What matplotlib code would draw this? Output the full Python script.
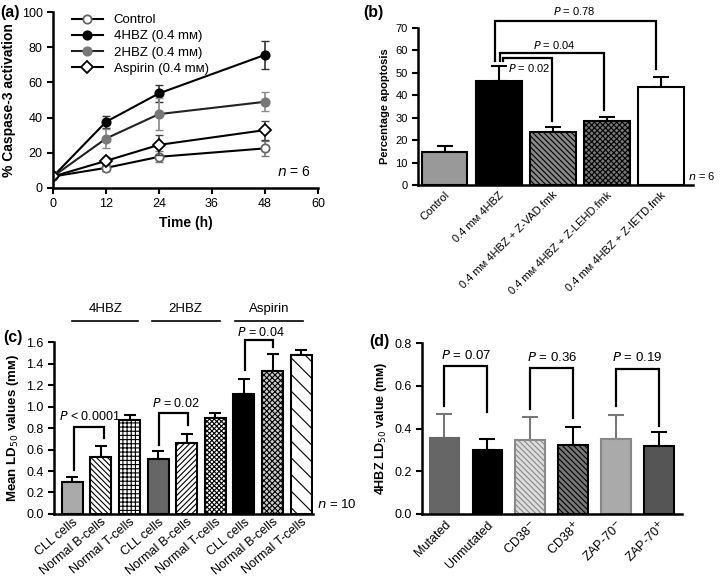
import matplotlib
matplotlib.use("Agg")
import matplotlib.pyplot as plt

plt.rcParams['font.family'] = ['Liberation Sans', 'DejaVu Sans']
plt.rcParams['hatch.linewidth'] = 0.8

# (a) caspase-3 activation over time
times = [0, 12, 24, 48]
ctrl = [6.5, 11.4, 17.7, 22.5]
ctrl_err = [1.0, 1.5, 3.1, 4.3]
hbz4 = [6.5, 37.6, 53.8, 75.7]
hbz4_err = [1.0, 3.4, 5.0, 8.0]
hbz2 = [6.5, 28.1, 42.0, 49.0]
hbz2_err = [1.0, 5.4, 9.0, 5.3]
aspirin = [6.5, 15.4, 24.5, 32.9]
aspirin_err = [1.0, 2.0, 5.6, 5.4]

# (b) percentage apoptosis
b_labels = ['Control', '0.4 mᴍ 4HBZ', '0.4 mᴍ 4HBZ + Z-VAD.fmk',
            '0.4 mᴍ 4HBZ + Z-LEHD.fmk', '0.4 mᴍ 4HBZ + Z-IETD.fmk']
b_vals = [14.9, 46.3, 23.4, 28.7, 43.7]
b_err = [2.7, 6.7, 2.4, 1.4, 4.3]

# (c) mean LD50 values
c_labels = ['CLL cells', 'Normal B-cells', 'Normal T-cells'] * 3
c_groups = ['4HBZ', '2HBZ', 'Aspirin']
c_vals = [0.297, 0.528, 0.874, 0.513, 0.664, 0.890, 1.115, 1.331, 1.476]
c_err = [0.043, 0.108, 0.050, 0.077, 0.077, 0.052, 0.145, 0.159, 0.053]

# (d) 4HBZ LD50 by prognostic marker
d_labels = ['Mutated', 'Unmutated', 'CD38$^{-}$', 'CD38$^{+}$',
            'ZAP-70$^{-}$', 'ZAP-70$^{+}$']
d_vals = [0.355, 0.300, 0.347, 0.323, 0.350, 0.316]
d_err = [0.112, 0.052, 0.109, 0.086, 0.114, 0.067]


def style_axes(ax, size=9):
    for s in ['top', 'right']:
        ax.spines[s].set_visible(False)
    for s in ['left', 'bottom']:
        ax.spines[s].set_linewidth(1.8)
    ax.tick_params(width=1.5, length=4, labelsize=size)


def bracket(ax, x1, x2, y, y1, y2, lw=1.6):
    ax.plot([x1, x1, x2, x2], [y1, y, y, y2], color='black', lw=lw,
            clip_on=False, solid_joinstyle='miter')


fig = plt.figure(figsize=(7.2, 5.8), dpi=100)

# ---------- (a)
ax = fig.add_axes([0.0736, 0.676, 0.368, 0.303])
series = [
    (ctrl, ctrl_err, 'Control', 'o', 'white', '#666666', '#777777', 'black'),
    (hbz4, hbz4_err, '4HBZ (0.4 mᴍ)', 'o', 'black', 'black', '#333333', 'black'),
    (hbz2, hbz2_err, '2HBZ (0.4 mᴍ)', 'o', '#777777', '#777777', '#888888', '#222222'),
    (aspirin, aspirin_err, 'Aspirin (0.4 mᴍ)', 'D', 'white', 'black', '#444444', 'black'),
]
for vals, errs, lab, mk, mfc, mec, ecol, lcol in series:
    ax.errorbar(times, vals, yerr=errs, fmt='none', ecolor=ecol, capsize=3,
                elinewidth=1.2)
    ax.plot(times, vals, color=lcol, marker=mk, mfc=mfc, mec=mec, ms=6,
            mew=1.3, lw=1.5, label=lab)
ax.set_xlim(0, 60)
ax.set_ylim(0, 100)
ax.set_xticks([0, 12, 24, 36, 48, 60])
ax.set_yticks([0, 20, 40, 60, 80, 100])
ax.set_xlabel('Time (h)', fontsize=10, fontweight='bold')
ax.set_ylabel('% Caspase-3 activation', fontsize=10, fontweight='bold')
style_axes(ax)
ax.legend(loc='upper left', frameon=False, fontsize=9.5,
          handlelength=2.4, borderaxespad=0.0, labelspacing=0.3,
          bbox_to_anchor=(0.05, 1.02))
ax.text(54.5, 9, '$n$ = 6', fontsize=10, ha='center', va='center')
fig.text(0.0, 0.978, '(a)', fontsize=11.5, fontweight='bold', va='center')

# ---------- (b)
ax = fig.add_axes([0.5806, 0.681, 0.382, 0.271])
xb = list(range(len(b_vals)))
b_face = ['#999999', 'black', '#888888', '#777777', 'white']
b_hatch = [None, None, '\\\\\\\\\\\\', 'xxxxxx', None]
for i in xb:
    ax.bar(xb[i], b_vals[i], width=0.85, color=b_face[i], edgecolor='black',
           linewidth=1.5, hatch=b_hatch[i], zorder=2)
ax.errorbar(xb, b_vals, yerr=[[0] * 5, b_err], fmt='none', ecolor='black',
            capsize=6, elinewidth=1.5, capthick=1.5, zorder=1)
ax.set_xlim(-0.49, 4.6)
ax.set_ylim(0, 70)
ax.set_yticks(range(0, 71, 10))
ax.set_xticks(xb)
ax.set_xticklabels(b_labels, rotation=45, ha='right', rotation_mode='anchor',
                   fontsize=7)
ax.set_ylabel('Percentage apoptosis', fontsize=8, fontweight='bold')
style_axes(ax, 8)
ax.tick_params(axis='x', length=0)
bracket(ax, 0.93, 3.91, 73.1, 55.2, 51.5)
bracket(ax, 1.02, 2.96, 58.7, 55.2, 33.6)
bracket(ax, 1.09, 1.99, 56.7, 55.2, 28.4)
ax.text(2.41, 77.6, '$P$ = 0.78', fontsize=8, ha='center', va='center')
ax.text(2.04, 62.2, '$P$ = 0.04', fontsize=8, ha='center', va='center')
ax.text(1.18, 52.0, '$P$ = 0.02', fontsize=8, ha='left', va='center')
ax.text(4.5, 4, '$n$ = 6', fontsize=8, ha='left', va='center', clip_on=False)
fig.text(0.504, 0.978, '(b)', fontsize=11.5, fontweight='bold', va='center')

# ---------- (c)
ax = fig.add_axes([0.075, 0.1138, 0.36, 0.2965])
xc = list(range(len(c_vals)))
c_face = ['#aaaaaa', 'white', 'white', '#666666', 'white', 'white',
          'black', '#cccccc', 'white']
c_hatch = [None, '\\\\\\\\\\\\', '++++', None, '//////', 'xxxxxxx',
           None, 'xxxxxx', '\\\\']
for i in xc:
    ax.bar(xc[i], c_vals[i], width=0.735, color=c_face[i], edgecolor='black',
           linewidth=1.5, hatch=c_hatch[i], zorder=2)
ax.errorbar(xc, c_vals, yerr=[[0] * 9, c_err], fmt='none', ecolor='black',
            capsize=4, elinewidth=1.5, capthick=1.5, zorder=1)
ax.set_xlim(-0.64, 8.42)
ax.set_ylim(0, 1.6)
ax.set_yticks([0, 0.2, 0.4, 0.6, 0.8, 1.0, 1.2, 1.4, 1.6])
ax.set_yticklabels(['0.0', '0.2', '0.4', '0.6', '0.8', '1.0', '1.2', '1.4',
                    '1.6'])
ax.set_xticks(xc)
ax.set_xticklabels(c_labels, rotation=40, ha='right', rotation_mode='anchor',
                   fontsize=6.8)
ax.set_ylabel('Mean LD$_{50}$ values (mᴍ)', fontsize=9.5, fontweight='bold')
style_axes(ax)
ax.tick_params(axis='x', length=0, pad=1.5)
bracket(ax, 0.05, 1.1, 0.812, 0.41, 0.704)
bracket(ax, 3.03, 4.03, 0.936, 0.642, 0.828)
bracket(ax, 6.03, 7.0, 1.615, 1.337, 1.553)
ax.text(0.6, 0.905, '$P$ < 0.0001', fontsize=9, ha='center', va='center')
ax.text(3.6, 1.03, '$P$ = 0.02', fontsize=9, ha='center', va='center')
ax.text(6.6, 1.69, '$P$ = 0.04', fontsize=9, ha='center', va='center')
for g, (x0, x1) in zip(c_groups, [(0.0, 2.3), (2.77, 5.16), (5.68, 8.07)]):
    ax.plot([x0, x1], [1.80, 1.80], color='black', lw=1.2, clip_on=False)
    ax.text((x0 + x1) / 2, 1.91, g, fontsize=9.5, ha='center', va='center')
ax.text(8.55, 0.09, '$n$ = 10', fontsize=9.5, ha='left', va='center')
fig.text(0.004, 0.418, '(c)', fontsize=11.5, fontweight='bold', va='center')

# ---------- (d)
ax = fig.add_axes([0.586, 0.1138, 0.361, 0.2948])
xd = list(range(len(d_vals)))
d_face = ['#666666', 'black', '#dddddd', '#777777', '#aaaaaa', '#555555']
d_edge = ['#666666', 'black', '#888888', 'black', '#888888', 'black']
d_hatch = [None, None, '\\\\\\\\\\\\', '\\\\\\\\\\\\', None, None]
d_ecol = ['#777777', 'black', '#777777', 'black', '#777777', 'black']
for i in xd:
    ax.bar(xd[i], d_vals[i], width=0.685, color=d_face[i],
           edgecolor=d_edge[i], linewidth=1.5, hatch=d_hatch[i], zorder=2)
    ax.errorbar(xd[i], d_vals[i], yerr=[[0], [d_err[i]]], fmt='none',
                ecolor=d_ecol[i], capsize=6, elinewidth=1.5, capthick=1.5,
                zorder=1)
ax.set_xlim(-0.52, 5.53)
ax.set_ylim(0, 0.8)
ax.set_yticks([0, 0.2, 0.4, 0.6, 0.8])
ax.set_yticklabels(['0.0', '0.2', '0.4', '0.6', '0.8'])
ax.set_xticks(xd)
ax.set_xticklabels(d_labels, rotation=45, ha='right', rotation_mode='anchor',
                   fontsize=8.5)
ax.set_ylabel('4HBZ LD$_{50}$ value (mᴍ)', fontsize=9, fontweight='bold')
style_axes(ax)
ax.tick_params(axis='x', length=0)
bracket(ax, 0, 1, 0.694, 0.503, 0.475)
bracket(ax, 2, 3, 0.683, 0.49, 0.448)
bracket(ax, 4, 5, 0.68, 0.503, 0.41)
ax.text(0.5, 0.74, '$P$ = 0.07', fontsize=9.5, ha='center', va='center')
ax.text(2.5, 0.73, '$P$ = 0.36', fontsize=9.5, ha='center', va='center')
ax.text(4.5, 0.73, '$P$ = 0.19', fontsize=9.5, ha='center', va='center')
fig.text(0.513, 0.412, '(d)', fontsize=11.5, fontweight='bold', va='center')

fig.savefig('out.png', dpi=100)
